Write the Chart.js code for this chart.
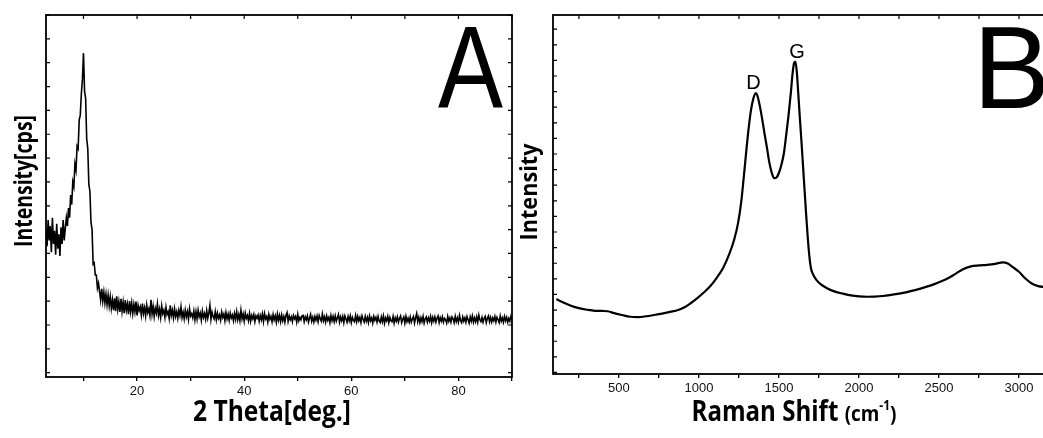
<!DOCTYPE html>
<html>
<head>
<meta charset="utf-8">
<script src="https://cdn.jsdelivr.net/npm/chart.js@4.4.1/dist/chart.umd.min.js"></script>
<style>
  html, body { margin: 0; padding: 0; background: #fff; }
  body { width: 1043px; height: 438px; overflow: hidden; position: relative; }
  .panel { position: absolute; top: 0; }
  #xrdBox { left: 0; width: 520px; height: 438px; }
  #ramanBox { left: 500px; width: 560px; height: 438px; }
</style>
</head>
<body>
<div class="panel" id="xrdBox"><canvas id="xrdChart" width="520" height="438"></canvas></div>
<div class="panel" id="ramanBox"><canvas id="ramanChart" width="560" height="438"></canvas></div>
<script>
// ---- Panel A: XRD, sampled every 0.2 deg from 3 to 90 ----
const xrdStart = 3;
const xrdStep = 0.2;
const xrdCounts = [
  600, 530, 640, 555, 615, 505, 650, 540, 595, 495,
  625, 520, 580, 490, 610, 540, 640, 555, 605, 650,
  615, 690, 650, 745, 705, 800, 780, 875, 850, 950,
  940, 1060, 1080, 1170, 1230, 1340, 1180, 1150, 980, 940,
  790, 760, 630, 600, 455, 460, 410, 410, 355, 375,
  340, 305, 352, 300, 338, 292, 330, 285, 325, 280,
  318, 270, 305, 262, 312, 258, 320, 266, 298, 255,
  310, 258, 296, 250, 305, 262, 288, 245, 300, 256,
  292, 248, 286, 255, 298, 240, 282, 260, 276, 242,
  290, 248, 272, 238, 284, 252, 268, 240, 306, 246,
  278, 236, 270, 250, 288, 240, 266, 232, 280, 248,
  262, 232, 274, 244, 256, 228, 282, 240, 262, 230,
  268, 236, 256, 228, 262, 240, 276, 232, 254, 226,
  262, 234, 256, 224, 268, 238, 248, 230, 258, 222,
  256, 226, 262, 234, 250, 220, 258, 232, 248, 224,
  260, 228, 250, 282, 224, 254, 236, 226, 256, 222,
  250, 228, 242, 220, 254, 232, 246, 218, 252, 226,
  246, 220, 250, 230, 242, 218, 248, 224, 256, 222,
  244, 218, 262, 226, 246, 216, 250, 228, 240, 218,
  248, 216, 240, 226, 244, 214, 238, 228, 242, 216,
  240, 222, 246, 214, 248, 226, 236, 212, 244, 224,
  236, 214, 244, 222, 238, 212, 246, 220, 240, 214,
  242, 218, 236, 212, 240, 252, 216, 238, 222, 234,
  214, 240, 226, 236, 212, 244, 218, 232, 222, 238,
  240, 214, 234, 222, 238, 212, 228, 244, 216, 232,
  212, 236, 220, 238, 214, 240, 226, 216, 246, 218,
  234, 212, 238, 220, 232, 210, 240, 218, 236, 214,
  238, 216, 230, 244, 212, 234, 218, 236, 210, 238,
  226, 212, 236, 218, 238, 210, 232, 220, 214, 240,
  214, 236, 218, 232, 210, 238, 224, 212, 236, 216,
  232, 210, 238, 218, 230, 208, 236, 220, 232, 212,
  236, 216, 210, 234, 214, 238, 208, 230, 218, 236,
  210, 232, 218, 214, 236, 208, 230, 216, 234, 212,
  228, 238, 210, 224, 234, 208, 236, 214, 228, 212,
  234, 212, 226, 236, 208, 230, 248, 214, 232, 210,
  230, 214, 236, 208, 226, 234, 212, 230, 216, 236,
  210, 232, 216, 234, 212, 228, 238, 210, 230, 216,
  234, 212, 228, 222, 208, 236, 216, 230, 212, 234,
  226, 210, 236, 214, 230, 212, 240, 218, 210, 234,
  216, 230, 212, 236, 222, 208, 234, 216, 238, 212,
  230, 214, 234, 212, 242, 222, 214, 232, 212, 228,
  236, 210, 228, 238, 214, 232, 212, 230, 218, 236,
  212, 232, 222, 210, 238, 216, 230, 212, 236, 218,
  232, 212, 228, 216, 236, 220
];
const xrdAngles = xrdCounts.map((_, i) => +(xrdStart + i * xrdStep).toFixed(1));
const xrdTicks = [10, 20, 30, 40, 50, 60, 70, 80, 90];
const xrdTickLabels = [20, 40, 60, 80];
const xrdYTicks = [0, 100, 200, 300, 400, 500, 600, 700, 800, 900, 1000, 1100, 1200, 1300, 1400, 1500];

// ---- Panel B: Raman ----
const ramanShift = [
  109, 150, 200, 250, 300, 350, 400, 430, 470, 520,
  570, 620, 670, 720, 770, 820, 870, 910, 950, 990,
  1030, 1070, 1110, 1150, 1190, 1220, 1245, 1265, 1280, 1295,
  1310, 1325, 1340, 1355, 1365, 1380, 1395, 1410, 1425, 1440,
  1455, 1470, 1485, 1500, 1515, 1530, 1545, 1560, 1575, 1585,
  1595, 1603, 1612, 1620, 1630, 1640, 1650, 1660, 1670, 1680,
  1690, 1700, 1715, 1735, 1760, 1800, 1850, 1900, 1950, 2000,
  2050, 2100, 2150, 2200, 2250, 2300, 2350, 2400, 2450, 2500,
  2550, 2600, 2650, 2700, 2750, 2800, 2850, 2900, 2930, 2960,
  3000, 3040, 3080, 3120, 3160, 3200
];
const ramanIntensity = [
  470, 450, 428, 412, 402, 395, 394, 392, 380, 368,
  357, 355, 360, 368, 377, 388, 400, 418, 445, 476,
  512, 552, 605, 668, 760, 850, 960, 1100, 1250, 1410,
  1560, 1680, 1755, 1790, 1775, 1710, 1625, 1530, 1440, 1345,
  1280, 1245, 1250, 1280, 1330, 1400, 1520, 1650, 1800, 1915,
  1985, 1992, 1920, 1800, 1640, 1490, 1330, 1170, 1010, 865,
  745, 668, 625, 592, 566, 540, 518, 505, 494, 488,
  485, 486, 490, 497, 505, 515, 528, 542, 558, 578,
  600, 630, 662, 680, 686, 690, 696, 706, 698, 676,
  645, 602, 570, 553, 548, 545
];
const ramanTicks = [250, 500, 750, 1000, 1250, 1500, 1750, 2000, 2250, 2500, 2750, 3000];
const ramanTickLabels = [500, 1000, 1500, 2000, 2500, 3000];
const ramanYTicks = [];
for (let v = 0; v <= 2200; v += 100) ramanYTicks.push(v);
const ramanPeaks = [{ text: 'D', x: 1340, y: 1790 }, { text: 'G', x: 1613, y: 1992 }];

const tickFont = { family: "'Liberation Sans', Arial, sans-serif", size: 13 };

// draws bold axis titles squeezed to the width they have in the figure
function drawTitle(ctx, parts, x, y, width, rotated) {
  ctx.save();
  let total = 0;
  parts.forEach(p => {
    ctx.font = 'bold ' + p.size + "px 'Open Sans'";
    p.w = ctx.measureText(p.t).width;
    total += p.w;
  });
  ctx.translate(x, y);
  if (rotated) ctx.rotate(-Math.PI / 2);
  ctx.scale(width / total, 1);
  ctx.fillStyle = '#000';
  ctx.textBaseline = 'alphabetic';
  let cx = -total / 2;
  parts.forEach(p => {
    ctx.font = 'bold ' + p.size + "px 'Open Sans'";
    ctx.fillText(p.t, cx, -(p.rise || 0));
    cx += p.w;
  });
  ctx.restore();
}

function drawLetter(ctx, t, x, y, squeeze) {
  ctx.save();
  ctx.translate(x, y);
  ctx.scale(squeeze, 1);
  ctx.font = "116px 'Liberation Sans', Arial";
  ctx.fillStyle = '#000';
  ctx.textBaseline = 'alphabetic';
  ctx.fillText(t, 0, 0);
  ctx.restore();
}

// box around the plot plus the inward ticks on top / left / right
const framePlugin = {
  id: 'frame',
  afterDraw(chart) {
    const ctx = chart.ctx, a = chart.chartArea;
    const xs = chart.scales.x, ys = chart.scales.y;
    ctx.save();
    ctx.strokeStyle = '#000';
    ctx.lineWidth = 1.2;
    ctx.beginPath();
    ys.ticks.forEach(t => {
      const py = ys.getPixelForValue(t.value);
      ctx.moveTo(a.left, py); ctx.lineTo(a.left + 4, py);
      ctx.moveTo(a.right, py); ctx.lineTo(a.right - 4, py);
    });
    xs.ticks.forEach(t => {
      const px = xs.getPixelForValue(t.value);
      ctx.moveTo(px, a.top); ctx.lineTo(px, a.top + 4);
    });
    ctx.stroke();
    ctx.lineWidth = 1.8;
    ctx.strokeRect(a.left, a.top, a.right - a.left, a.bottom - a.top);
    ctx.restore();
  }
};

function axes(xMin, xMax, xTicks, xLabels, yMin, yMax, yTicks, yWidth, xHeight) {
  return {
    x: {
      type: 'linear', min: xMin, max: xMax,
      afterBuildTicks: s => { s.ticks = xTicks.map(v => ({ value: v })); },
      afterFit: s => { s.height = xHeight; },
      ticks: {
        autoSkip: false, maxRotation: 0, padding: 3, color: '#111', font: tickFont,
        callback: v => xLabels.includes(v) ? String(v) : ''
      },
      grid: { drawOnChartArea: false, drawTicks: true, tickLength: 4, color: '#000', lineWidth: 1.3 },
      border: { display: false }
    },
    y: {
      type: 'linear', min: yMin, max: yMax,
      afterBuildTicks: s => { s.ticks = yTicks.map(v => ({ value: v })); },
      afterFit: s => { s.width = yWidth; },
      ticks: { display: false },
      grid: { display: false },
      border: { display: false }
    }
  };
}

new Chart(document.getElementById('xrdChart'), {
  type: 'line',
  data: {
    datasets: [{
      data: xrdAngles.map((x, i) => ({ x: x, y: xrdCounts[i] })),
      borderColor: '#000', borderWidth: 1.6, pointRadius: 0, tension: 0
    }]
  },
  options: {
    responsive: false, animation: false, events: [],
    layout: { padding: { top: 15, right: 8, left: 0, bottom: 0 } },
    plugins: { legend: { display: false }, tooltip: { enabled: false } },
    scales: axes(3, 90, xrdTicks, xrdTickLabels, -18, 1500, xrdYTicks, 46, 61)
  },
  plugins: [framePlugin, {
    id: 'xrdText',
    afterDraw(chart) {
      const ctx = chart.ctx;
      drawTitle(ctx, [{ t: '2 Theta[deg.]', size: 28 }], 272, 421, 158, false);
      drawTitle(ctx, [{ t: 'Intensity[cps]', size: 25 }], 32, 181, 132, true);
      drawLetter(ctx, 'A', 438, 108, 0.84);
    }
  }]
});

new Chart(document.getElementById('ramanChart'), {
  type: 'line',
  data: {
    datasets: [{
      data: ramanShift.map((x, i) => ({ x: x, y: ramanIntensity[i] })),
      borderColor: '#000', borderWidth: 2.2, pointRadius: 0,
      cubicInterpolationMode: 'monotone'
    }]
  },
  options: {
    responsive: false, animation: false, events: [],
    layout: { padding: { top: 15, right: 9, left: 0, bottom: 0 } },
    plugins: { legend: { display: false }, tooltip: { enabled: false } },
    scales: axes(88, 3200, ramanTicks, ramanTickLabels, -10, 2291, ramanYTicks, 53, 64)
  },
  plugins: [framePlugin, {
    id: 'ramanText',
    afterDraw(chart) {
      const ctx = chart.ctx, xs = chart.scales.x, ys = chart.scales.y;
      drawTitle(ctx, [
        { t: 'Raman Shift ', size: 28 },
        { t: '(cm', size: 22 },
        { t: '-1', size: 14, rise: 11 },
        { t: ')', size: 22 }
      ], 294, 421, 205, false);
      drawTitle(ctx, [{ t: 'Intensity', size: 23 }], 37, 192, 97, true);
      drawLetter(ctx, 'B', 473, 108, 1);
      ctx.save();
      ctx.font = "20px 'Liberation Sans', Arial";
      ctx.fillStyle = '#000';
      ctx.textAlign = 'center';
      ctx.textBaseline = 'alphabetic';
      ramanPeaks.forEach(p => {
        ctx.fillText(p.text, xs.getPixelForValue(p.x), ys.getPixelForValue(p.y) - 4);
      });
      ctx.restore();
    }
  }]
});
</script>
</body>
</html>
